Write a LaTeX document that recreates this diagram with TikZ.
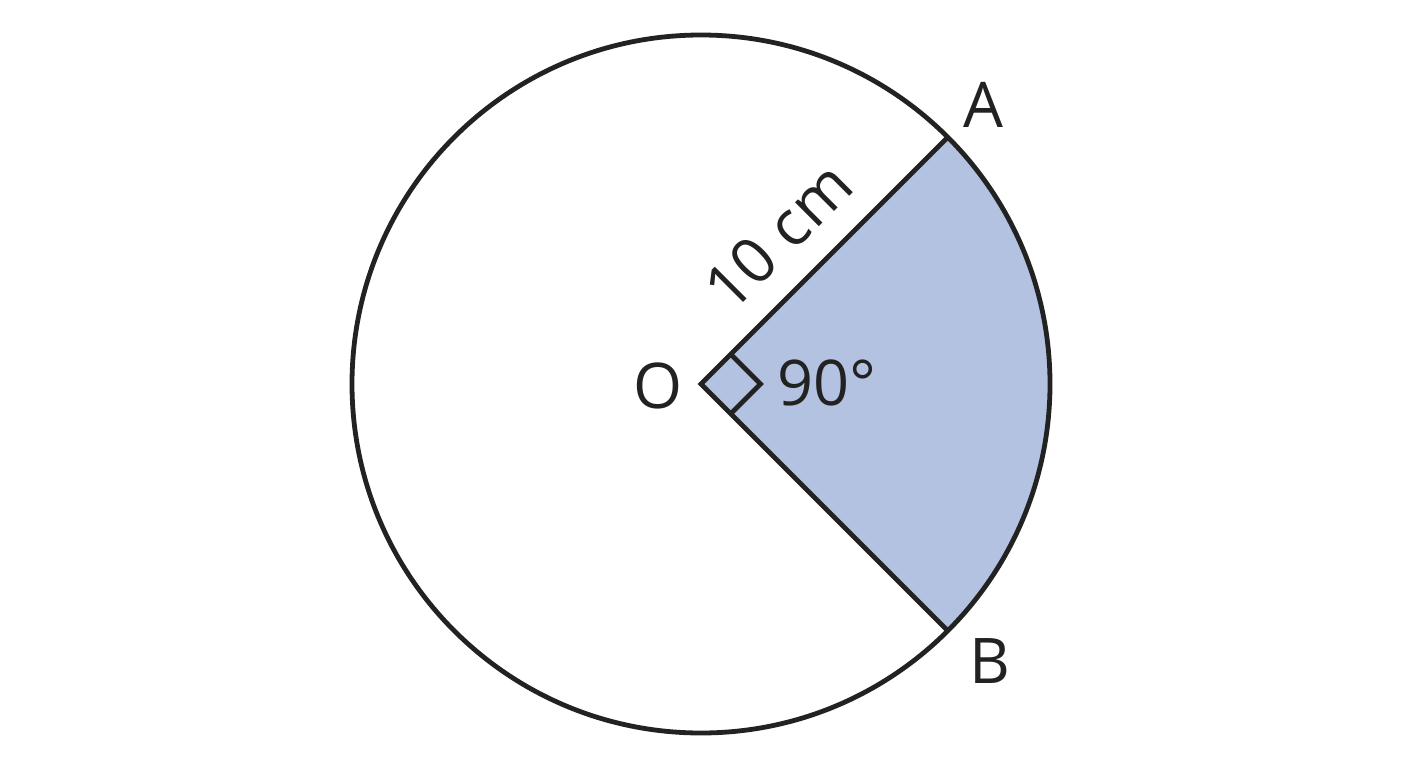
\documentclass[tikz,border=0pt]{standalone}
\usepackage{fontspec}
\setmainfont{Open Sans}
\usetikzlibrary{calc}
\definecolor{sector}{HTML}{B2C2E0}
\definecolor{ink}{HTML}{222222}
\begin{document}
\begin{tikzpicture}[x=0.5pt,y=0.5pt,
  edge/.style={draw=ink,line width=2.4pt,line join=miter},
  lbl/.style={text=ink,font=\fontsize{31.5}{38}\selectfont,inner sep=0pt}]
\useasboundingbox (0,0) rectangle (1408,768);
\coordinate (O) at (701,384);
\coordinate (A) at ($(O)+(45:349)$);
\coordinate (B) at ($(O)+(-45:349)$);
\fill[sector] (O) -- (B) arc[start angle=-45,end angle=45,radius=349] -- cycle;
\draw[edge] (O) circle[radius=349];
\draw[edge] (A) -- (O) -- (B);
\draw[edge] ($(O)+(45:42)$) -- ($(O)+(0:59.4)$) -- ($(O)+(-45:42)$);
\node[lbl] (lO) at (658,382) {O};
\node[lbl] (l90) at (827,385) {90°};
\node[lbl] (lA) at (983,663) {A};
\node[lbl] (lB) at (990,107) {B};
\node[lbl,rotate=45] (l10) at (778,532) {10 cm};
\end{tikzpicture}
\end{document}
